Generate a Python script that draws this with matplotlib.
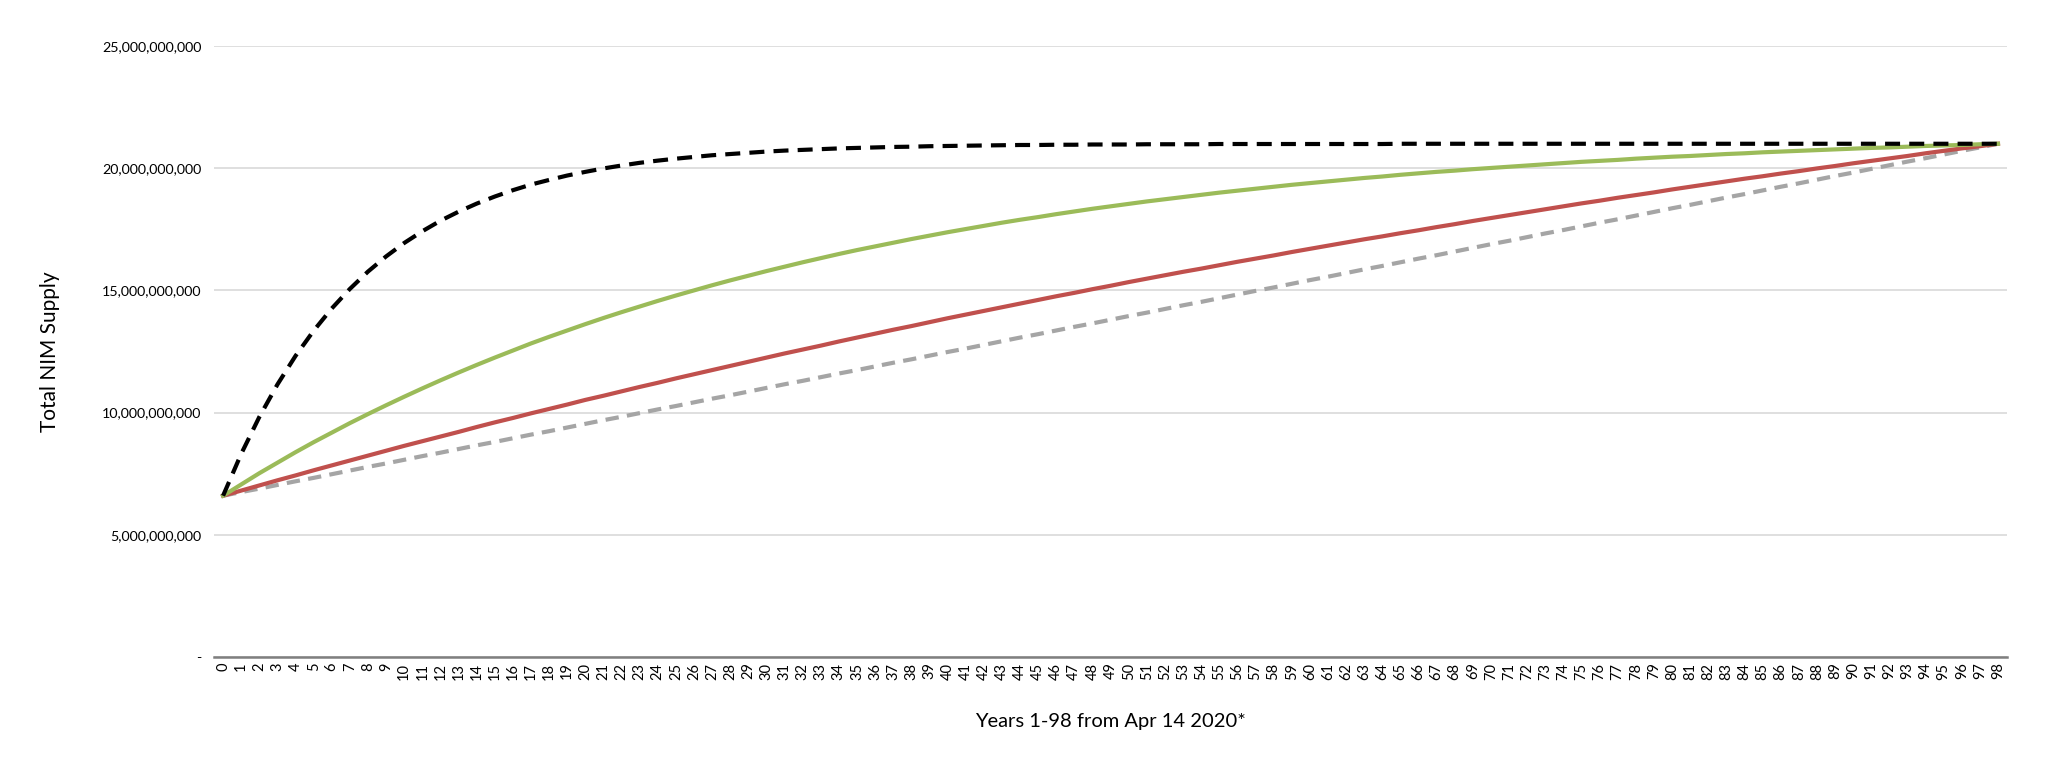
import numpy as np
import matplotlib.pyplot as plt
from matplotlib.ticker import FuncFormatter, MultipleLocator

plt.rcParams['font.family'] = ['Lato', 'DejaVu Sans']

# years since Apr 14 2020
years = list(range(0, 99))

# supply scenarios, in billions of NIM
fast_curve = [
    6.60, 8.31, 9.82, 11.15, 12.32, 13.35, 14.26, 15.06, 15.77, 16.39,
    16.94, 17.42, 17.85, 18.22, 18.55, 18.84, 19.10, 19.33, 19.52, 19.70,
    19.85, 19.99, 20.11, 20.22, 20.31, 20.39, 20.46, 20.53, 20.58, 20.63,
    20.68, 20.72, 20.75, 20.78, 20.81, 20.83, 20.85, 20.87, 20.88, 20.90,
    20.91, 20.92, 20.93, 20.94, 20.95, 20.95, 20.96, 20.96, 20.97, 20.97,
    20.97, 20.98, 20.98, 20.98, 20.98, 20.99, 20.99, 20.99, 20.99, 20.99,
    20.99, 20.99, 20.99, 20.99, 20.99, 21.00, 21.00, 21.00, 21.00, 21.00,
    21.00, 21.00, 21.00, 21.00, 21.00, 21.00, 21.00, 21.00, 21.00, 21.00,
    21.00, 21.00, 21.00, 21.00, 21.00, 21.00, 21.00, 21.00, 21.00, 21.00,
    21.00, 21.00, 21.00, 21.00, 21.00, 21.00, 21.00, 21.00, 21.00,
]

green_curve = [
    6.60, 7.06, 7.52, 7.95, 8.38, 8.79, 9.18, 9.57, 9.94, 10.30,
    10.65, 10.99, 11.32, 11.64, 11.95, 12.25, 12.54, 12.83, 13.10, 13.36,
    13.62, 13.87, 14.11, 14.34, 14.57, 14.79, 15.00, 15.21, 15.41, 15.60,
    15.79, 15.97, 16.15, 16.32, 16.49, 16.65, 16.80, 16.95, 17.10, 17.24,
    17.38, 17.51, 17.64, 17.77, 17.89, 18.00, 18.12, 18.23, 18.34, 18.44,
    18.54, 18.64, 18.73, 18.82, 18.91, 19.00, 19.08, 19.16, 19.24, 19.32,
    19.39, 19.46, 19.53, 19.60, 19.66, 19.73, 19.79, 19.85, 19.90, 19.96,
    20.01, 20.06, 20.11, 20.16, 20.21, 20.26, 20.30, 20.34, 20.39, 20.43,
    20.47, 20.50, 20.54, 20.58, 20.61, 20.65, 20.68, 20.71, 20.74, 20.77,
    20.80, 20.83, 20.85, 20.88, 20.91, 20.93, 20.95, 20.98, 21.00,
]

red_curve = [
    6.60, 6.81, 7.02, 7.23, 7.43, 7.64, 7.84, 8.04, 8.24, 8.44,
    8.64, 8.83, 9.02, 9.21, 9.41, 9.60, 9.78, 9.97, 10.15, 10.33,
    10.52, 10.69, 10.87, 11.05, 11.22, 11.40, 11.57, 11.74, 11.91, 12.08,
    12.25, 12.42, 12.58, 12.74, 12.91, 13.07, 13.23, 13.39, 13.54, 13.70,
    13.86, 14.01, 14.16, 14.31, 14.46, 14.61, 14.76, 14.90, 15.05, 15.19,
    15.34, 15.48, 15.62, 15.76, 15.89, 16.03, 16.17, 16.30, 16.43, 16.57,
    16.70, 16.83, 16.96, 17.09, 17.21, 17.34, 17.46, 17.59, 17.71, 17.84,
    17.96, 18.08, 18.20, 18.32, 18.44, 18.56, 18.67, 18.79, 18.90, 19.01,
    19.13, 19.24, 19.35, 19.46, 19.57, 19.67, 19.78, 19.88, 19.99, 20.09,
    20.20, 20.30, 20.40, 20.50, 20.61, 20.71, 20.81, 20.90, 21.00,
]

linear_curve = [
    6.60, 6.75, 6.89, 7.04, 7.19, 7.33, 7.48, 7.63, 7.78, 7.92,
    8.07, 8.22, 8.36, 8.51, 8.66, 8.80, 8.95, 9.10, 9.24, 9.39,
    9.54, 9.69, 9.83, 9.98, 10.13, 10.27, 10.42, 10.57, 10.71, 10.86,
    11.01, 11.16, 11.30, 11.45, 11.60, 11.74, 11.89, 12.04, 12.18, 12.33,
    12.48, 12.62, 12.77, 12.92, 13.07, 13.21, 13.36, 13.51, 13.65, 13.80,
    13.95, 14.09, 14.24, 14.39, 14.53, 14.68, 14.83, 14.98, 15.12, 15.27,
    15.42, 15.56, 15.71, 15.86, 16.00, 16.15, 16.30, 16.44, 16.59, 16.74,
    16.89, 17.03, 17.18, 17.33, 17.47, 17.62, 17.77, 17.91, 18.06, 18.21,
    18.36, 18.50, 18.65, 18.80, 18.94, 19.09, 19.24, 19.38, 19.53, 19.68,
    19.82, 19.97, 20.12, 20.27, 20.41, 20.56, 20.71, 20.85, 21.00,
]

BILLION = 1e9

fig = plt.figure(figsize=(20.48, 7.77), dpi=100)
ax = fig.add_axes([0.1045, 0.1544, 0.8755, 0.7864])

x = np.array(years)
ax.plot(x, np.array(linear_curve) * BILLION, color="#A5A5A5", lw=3,
        dashes=(3.2, 2.0), zorder=3)
ax.plot(x, np.array(red_curve) * BILLION, color="#C0504D", lw=3, zorder=4)
ax.plot(x, np.array(green_curve) * BILLION, color="#9BBB59", lw=3, zorder=5)
ax.plot(x, np.array(fast_curve) * BILLION, color="#000000", lw=3,
        dashes=(3.6, 2.2), zorder=6)

ax.set_xlim(-0.5, 98.5)
ax.set_ylim(0, 25 * BILLION)
ax.yaxis.set_major_locator(MultipleLocator(5 * BILLION))
ax.yaxis.set_major_formatter(
    FuncFormatter(lambda v, p: "-" if v == 0 else f"{v:,.0f}"))
ax.set_xticks(years)
ax.set_xticklabels([str(y) for y in years], rotation=90, fontsize=10.5)
ax.tick_params(axis="y", length=0, pad=9, labelsize=10.3)
ax.tick_params(axis="x", length=0, pad=4)

ax.grid(axis="y", color="#D9D9D9", lw=1.2)
ax.set_axisbelow(True)
for side in ["top", "right", "left"]:
    ax.spines[side].set_visible(False)
ax.spines["bottom"].set_color("#7F7F7F")
ax.spines["bottom"].set_linewidth(1.8)

ax.set_ylabel("Total NIM Supply", fontsize=15)
ax.yaxis.set_label_coords(-0.0915, 0.5)
ax.set_xlabel("Years 1-98 from Apr 14 2020*", fontsize=14.5)
ax.xaxis.set_label_coords(0.5, -0.106)
ax.xaxis.label.set_va("center")
ax.yaxis.label.set_va("center")

fig.savefig("out.png", dpi=100)
